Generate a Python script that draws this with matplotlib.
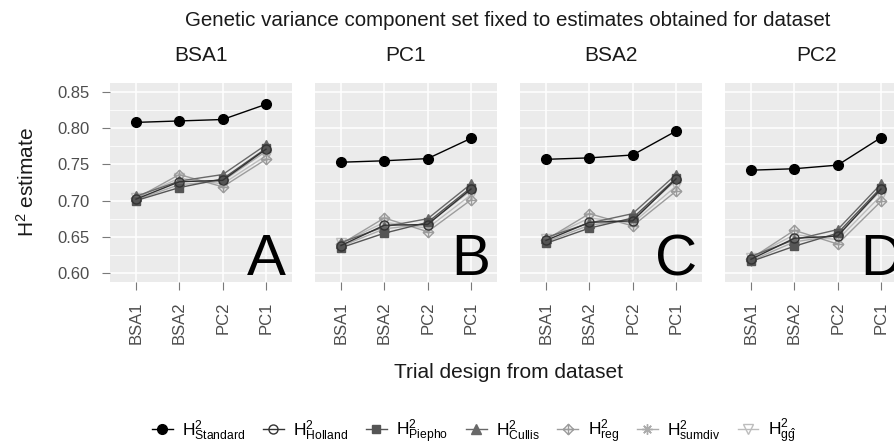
import matplotlib
matplotlib.use("Agg")
import matplotlib.pyplot as plt
from matplotlib.path import Path
from matplotlib.lines import Line2D
import numpy as np

plt.rcParams['font.family'] = ['Liberation Sans', 'DejaVu Sans']
plt.rcParams['mathtext.fontset'] = 'custom'
plt.rcParams['mathtext.rm'] = 'Liberation Sans'
plt.rcParams['mathtext.it'] = 'Liberation Sans:italic'

# datasets used to fix the genetic variance components (one panel each)
panels = ['BSA1', 'PC1', 'BSA2', 'PC2']
panel_tags = ['A', 'B', 'C', 'D']
# trial designs on the x axis
designs = ['BSA1', 'BSA2', 'PC2', 'PC1']

methods = ['Standard', 'Holland', 'Piepho', 'Cullis', 'reg', 'sumdiv', 'gg']
labels = [r'$\mathrm{H^2_{Standard}}$', r'$\mathrm{H^2_{Holland}}$',
          r'$\mathrm{H^2_{Piepho}}$', r'$\mathrm{H^2_{Cullis}}$',
          r'$\mathrm{H^2_{reg}}$', r'$\mathrm{H^2_{sumdiv}}$',
          r'$\mathrm{H^2_{g\hat{g}}}$']

h2_standard = [[0.808, 0.810, 0.812, 0.833],
               [0.753, 0.755, 0.758, 0.786],
               [0.757, 0.759, 0.763, 0.796],
               [0.742, 0.744, 0.749, 0.787]]
h2_holland = [[0.702, 0.726, 0.728, 0.771],
              [0.638, 0.666, 0.667, 0.716],
              [0.645, 0.670, 0.672, 0.730],
              [0.619, 0.648, 0.651, 0.716]]
h2_piepho = [[0.700, 0.718, 0.730, 0.772],
             [0.635, 0.655, 0.670, 0.718],
             [0.641, 0.662, 0.676, 0.731],
             [0.616, 0.637, 0.655, 0.718]]
h2_cullis = [[0.706, 0.727, 0.736, 0.777],
             [0.642, 0.664, 0.675, 0.723],
             [0.649, 0.669, 0.682, 0.736],
             [0.623, 0.646, 0.660, 0.723]]
h2_reg = [[0.703, 0.736, 0.719, 0.757],
          [0.640, 0.676, 0.657, 0.701],
          [0.646, 0.682, 0.665, 0.713],
          [0.620, 0.659, 0.640, 0.699]]
h2_sumdiv = [[0.701, 0.722, 0.727, 0.768],
             [0.637, 0.661, 0.668, 0.714],
             [0.643, 0.666, 0.674, 0.728],
             [0.617, 0.643, 0.652, 0.714]]
h2_gg = [[0.704, 0.731, 0.723, 0.762],
         [0.641, 0.670, 0.662, 0.708],
         [0.647, 0.676, 0.669, 0.720],
         [0.621, 0.653, 0.646, 0.707]]

series = [h2_standard, h2_holland, h2_piepho, h2_cullis, h2_reg, h2_sumdiv, h2_gg]

# diamond with a plus inside (ggplot shape 9)
diamond_plus = Path(
    [(0, 1), (1, 0), (0, -1), (-1, 0), (0, 1), (0, 1), (0, -1), (-1, 0), (1, 0)],
    [Path.MOVETO, Path.LINETO, Path.LINETO, Path.LINETO, Path.CLOSEPOLY,
     Path.MOVETO, Path.LINETO, Path.MOVETO, Path.LINETO])

styles = [
    dict(color='#000000', marker='o', mfc='#000000', ms=7),
    dict(color='#333333', marker='o', mfc='none', ms=6.5),
    dict(color='#555555', marker='s', mfc='#555555', ms=6),
    dict(color='#686868', marker='^', mfc='#686868', ms=6.5),
    dict(color='#9c9c9c', marker=diamond_plus, mfc='none', ms=7.5),
    dict(color='#acacac', marker=(8, 2, 0), mfc='none', ms=7.5),
    dict(color='#bdbdbd', marker='v', mfc='none', ms=7),
]

W, H = 894, 446
fig = plt.figure(figsize=(W / 100, H / 100), dpi=100)

panel_left = [110, 315, 520, 725]
panel_w, top, bottom = 182, 83, 282
x = np.arange(len(designs))

for p in range(len(panels)):
    ax = fig.add_axes([panel_left[p] / W, 1 - bottom / H, panel_w / W, (bottom - top) / H])
    ax.set_facecolor('#EBEBEB')
    for s in ax.spines.values():
        s.set_visible(False)
    ax.set_xlim(-0.6, 3.6)
    ax.set_ylim(0.5876, 0.8624)
    ax.set_yticks(np.arange(0.60, 0.851, 0.05))
    ax.set_yticks(np.arange(0.625, 0.851, 0.05), minor=True)
    ax.set_xticks(x)
    ax.set_xticklabels(designs, rotation=90, fontsize=12, color='#4D4D4D')
    ax.grid(which='major', color='white', lw=1.1)
    ax.grid(which='minor', axis='y', color='white', lw=0.55)
    ax.set_axisbelow(True)
    ax.tick_params(axis='both', which='major', length=6, width=0.8, color='#7a7a7a', pad=8)
    ax.tick_params(axis='y', which='major', pad=9)
    ax.tick_params(axis='y', which='minor', length=0)
    if p == 0:
        ax.set_yticklabels(['%.2f' % v for v in ax.get_yticks()], fontsize=12, color='#4D4D4D')
    else:
        ax.set_yticklabels([])
        ax.tick_params(axis='y', which='major', length=0)
    ax.set_title(panels[p], fontsize=15, pad=16, color='#1a1a1a')

    # lighter estimators first so the darker ones stay on top
    for k in range(len(series) - 1, -1, -1):
        st = styles[k]
        ax.plot(x, series[k][p], color=st['color'], marker=st['marker'], mfc=st['mfc'],
                mec=st['color'], ms=st['ms'], lw=1.0, mew=1.0, zorder=3 + (len(series) - k) * 0.1)

    ax.text(3, 0.597, panel_tags[p], fontsize=42, ha='center', va='baseline', color='black', zorder=5)

fig.text(27 / W, 1 - 182 / H, r'$\mathrm{H^2}$ estimate', fontsize=15, rotation=90,
         ha='center', va='center', color='#1a1a1a')
fig.text(508 / W, 1 - 20 / H, 'Genetic variance component set fixed to estimates obtained for dataset',
         fontsize=14.8, ha='center', va='center', color='#1a1a1a')
fig.text(508 / W, 1 - 372 / H, 'Trial design from dataset', fontsize=15, ha='center', va='center',
         color='#1a1a1a')

handles = [Line2D([], [], color=st['color'], marker=st['marker'], mfc=st['mfc'], mec=st['color'],
                  ms=st['ms'], lw=1.0, mew=1.0) for st in styles]
fig.legend(handles, labels, loc='center', bbox_to_anchor=(474 / W, 1 - 431 / H), ncol=7,
           frameon=False, fontsize=12.5, handlelength=1.2, handletextpad=0.55, columnspacing=1.0)

fig.savefig('out.png', dpi=100)
